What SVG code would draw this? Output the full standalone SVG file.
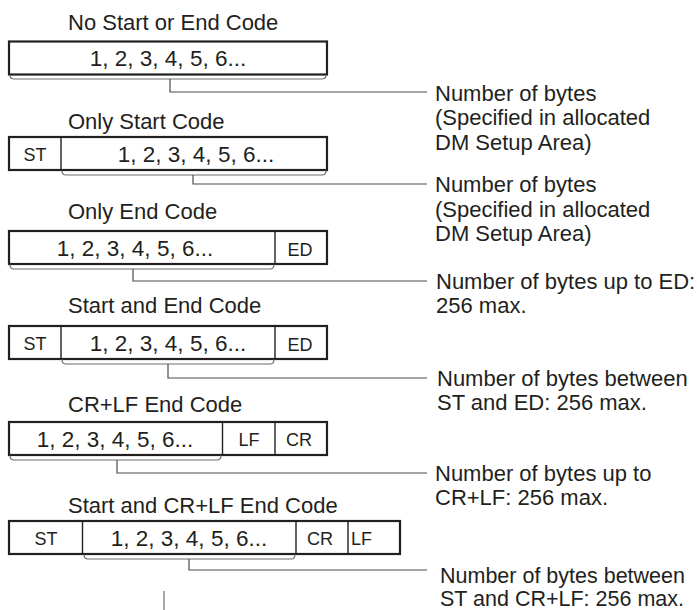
<svg xmlns="http://www.w3.org/2000/svg" width="697" height="610" viewBox="0 0 697 610">
<style>
text{font-family:"Liberation Sans",Arial,sans-serif;fill:#231f20}
.t{font-size:22px}
.d{font-size:22.5px;text-anchor:middle}
.c{font-size:18px;text-anchor:middle}
.l{font-size:22px}
.box{fill:#fff;stroke:#231f20;stroke-width:2.2}
.div{stroke:#231f20;stroke-width:1.4}
.br{fill:none;stroke:#6d6e70;stroke-width:1.2}
.ld{fill:none;stroke:#4d4d4f;stroke-width:1.2}
</style>
<rect width="697" height="610" fill="#fff"/>

<g id="frame1">
<text class="t" x="68" y="29.5">No Start or End Code</text>
<rect class="box" x="9" y="41.5" width="318" height="33"/>
<text class="d" x="168" y="66">1, 2, 3, 4, 5, 6...</text>
</g>

<g id="frame2">
<text class="t" x="68" y="129">Only Start Code</text>
<rect class="box" x="9" y="137" width="318" height="33"/>
<line class="div" x1="61" y1="137" x2="61" y2="170"/>
<text class="c" x="35" y="160.5">ST</text>
<text class="d" x="196" y="161.5">1, 2, 3, 4, 5, 6...</text>
</g>

<g id="frame3">
<text class="t" x="68" y="219">Only End Code</text>
<rect class="box" x="9" y="231" width="318" height="33"/>
<line class="div" x1="275" y1="231" x2="275" y2="264"/>
<text class="d" x="135" y="255.5">1, 2, 3, 4, 5, 6...</text>
<text class="c" x="300" y="255.5">ED</text>
</g>

<g id="frame4">
<text class="t" x="68" y="313">Start and End Code</text>
<rect class="box" x="9" y="326" width="318" height="33"/>
<line class="div" x1="61" y1="326" x2="61" y2="359"/>
<line class="div" x1="275" y1="326" x2="275" y2="359"/>
<text class="c" x="35" y="349.5">ST</text>
<text class="d" x="168" y="350.5">1, 2, 3, 4, 5, 6...</text>
<text class="c" x="300" y="350.5">ED</text>
</g>

<g id="frame5">
<text class="t" x="68" y="412">CR+LF End Code</text>
<rect class="box" x="9" y="422" width="318" height="33"/>
<line class="div" x1="222.5" y1="422" x2="222.5" y2="455"/>
<line class="div" x1="275" y1="422" x2="275" y2="455"/>
<text class="d" x="115" y="446.5">1, 2, 3, 4, 5, 6...</text>
<text class="c" x="249" y="445.5">LF</text>
<text class="c" x="299" y="445.5">CR</text>
</g>

<g id="frame6">
<text class="t" x="68" y="513">Start and CR+LF End Code</text>
<rect class="box" x="9" y="521" width="391" height="33"/>
<line class="div" x1="82.5" y1="521" x2="82.5" y2="554"/>
<line class="div" x1="296" y1="521" x2="296" y2="554"/>
<line class="div" x1="348" y1="521" x2="348" y2="554"/>
<text class="c" x="46" y="544.5">ST</text>
<text class="d" x="189" y="545.5">1, 2, 3, 4, 5, 6...</text>
<text class="c" x="320" y="544.5">CR</text>
<text class="c" x="351" y="544.5" style="text-anchor:start">LF</text>
</g>

<g id="connectors">
<path class="br" d="M10,75 Q10,79 14,79 L322,79 Q326,79 326,75"/>
<path class="ld" d="M170,79 V92 H427"/>
<path class="br" d="M62,170.5 Q62,175 66,175 L322,175 Q326,175 326,170.5"/>
<path class="ld" d="M193,175 V184 H427"/>
<path class="br" d="M10,264.5 Q10,269 14,269 L270,269 Q274,269 274,264.5"/>
<path class="ld" d="M133,269 V281 H427"/>
<path class="br" d="M62,359.5 Q62,364 66,364 L270,364 Q274,364 274,359.5"/>
<path class="ld" d="M168,364 V378 H427"/>
<path class="br" d="M10,455.5 Q10,460 14,460 L217,460 Q221,460 221,455.5"/>
<path class="ld" d="M117,460 V473 H427"/>
<path class="br" d="M84,554.5 Q84,559 88,559 L291,559 Q295,559 295,554.5"/>
<path class="ld" d="M189,559 V570 H427"/>
<line class="br" x1="164" y1="591" x2="164" y2="610"/>
</g>

<g id="label1">
<text class="l" x="435" y="100.5">Number of bytes</text>
<text class="l" x="435" y="125">(Specified in allocated</text>
<text class="l" x="435" y="149.5">DM Setup Area)</text>
</g>
<g id="label2">
<text class="l" x="435" y="192">Number of bytes</text>
<text class="l" x="435" y="216.5">(Specified in allocated</text>
<text class="l" x="435" y="241">DM Setup Area)</text>
</g>
<g id="label3">
<text class="l" x="436" y="289">Number of bytes up to ED:</text>
<text class="l" x="436" y="313">256 max.</text>
</g>
<g id="label4">
<text class="l" x="437" y="386">Number of bytes between</text>
<text class="l" x="437" y="409.5">ST and ED: 256 max.</text>
</g>
<g id="label5">
<text class="l" x="435" y="481">Number of bytes up to</text>
<text class="l" x="435" y="504.5">CR+LF: 256 max.</text>
</g>
<g id="label6">
<text class="l" x="440" y="583" style="font-size:21.5px">Number of bytes between</text>
<text class="l" x="440" y="606" style="font-size:21.5px">ST and CR+LF: 256 max.</text>
</g>
</svg>
